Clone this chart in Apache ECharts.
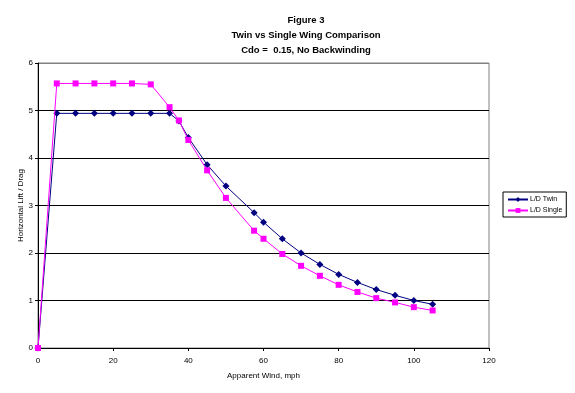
<!DOCTYPE html>
<html>
<head>
<meta charset="utf-8">
<script src="https://cdn.jsdelivr.net/npm/echarts@6/dist/echarts.min.js"></script>
<style>
html,body{margin:0;padding:0;background:#fff;}
#chart{width:575px;height:393px;}
</style>
</head>
<body>
<div id="chart"></div>
<script>
const windSpeeds = [0, 5, 10, 15, 20, 25, 30, 35, 37.5, 40, 45, 50, 57.5, 60, 65, 70, 75, 80, 85, 90, 95, 100, 105];
const twinLD = [0, 4.94, 4.94, 4.94, 4.94, 4.94, 4.94, 4.94, 4.78, 4.43, 3.86, 3.41, 2.85, 2.65, 2.30, 2.00, 1.76, 1.55, 1.38, 1.23, 1.11, 1.00, 0.92];
const singleLD = [0, 5.57, 5.57, 5.57, 5.57, 5.57, 5.55, 5.07, 4.79, 4.38, 3.74, 3.16, 2.47, 2.30, 1.98, 1.73, 1.52, 1.33, 1.18, 1.05, 0.96, 0.86, 0.79];
const seriesNames = ['L/D Twin', 'L/D Single'];
const titleLines = ['Figure 3', 'Twin vs Single Wing Comparison', 'Cdo =  0.15, No Backwinding'];
const xAxisTitle = 'Apparent Wind, mph';
const yAxisTitle = 'Horizontal Lift / Drag';

const pairs = (xs, ys) => xs.map((x, i) => [x, ys[i]]);
const FONT = 'Liberation Sans, Arial, sans-serif';

const chart = echarts.init(document.getElementById('chart'), null, {renderer: 'canvas'});
chart.setOption({
  backgroundColor: '#fff',
  animation: false,
  title: {
    text: titleLines.join('\n'),
    left: 301,
    top: 8,
    textAlign: 'center',
    textStyle: {fontFamily: FONT, fontSize: 9.5, fontWeight: 'bold', color: '#000', lineHeight: 15}
  },
  grid: {
    left: 38, right: 86, top: 63, bottom: 45,
    show: true, borderColor: '#808080', borderWidth: 1, backgroundColor: '#fff',
    containLabel: false
  },
  legend: {
    orient: 'vertical',
    left: 503, top: 192,
    padding: [4, 4, 3, 4],
    itemGap: 4,
    itemWidth: 20, itemHeight: 6,
    borderColor: '#000', borderWidth: 1,
    textStyle: {fontFamily: FONT, fontSize: 7, color: '#000', padding: [0, 0, 0, -3]},
    data: seriesNames
  },
  xAxis: {
    type: 'value', min: 0, max: 120, interval: 20,
    name: xAxisTitle, nameLocation: 'middle', nameGap: 24, nameMoveOverlap: false,
    nameTextStyle: {fontFamily: FONT, fontSize: 8, color: '#000'},
    axisLine: {show: true, onZero: false, lineStyle: {color: '#000', width: 1}},
    axisTick: {show: true, inside: false, length: 3, lineStyle: {color: '#000'}},
    axisLabel: {fontFamily: FONT, fontSize: 8, color: '#000', margin: 9},
    splitLine: {show: false}
  },
  yAxis: {
    type: 'value', min: 0, max: 6, interval: 1,
    name: yAxisTitle, nameLocation: 'middle', nameGap: 13, nameRotate: 90, nameMoveOverlap: false,
    nameTextStyle: {fontFamily: FONT, fontSize: 8, color: '#000'},
    axisLine: {show: true, onZero: false, lineStyle: {color: '#000', width: 1}},
    axisTick: {show: true, inside: false, length: 3, lineStyle: {color: '#000'}},
    axisLabel: {fontFamily: FONT, fontSize: 8, color: '#000', margin: 5},
    splitLine: {show: true, lineStyle: {color: ['#000', '#000', '#000', '#000', '#000', '#000', '#808080'], width: 1}}
  },
  series: [
    {
      name: seriesNames[0], type: 'line',
      data: pairs(windSpeeds, twinLD),
      symbol: 'diamond', symbolSize: 7,
      lineStyle: {color: '#000080', width: 1},
      itemStyle: {color: '#000080'},
      z: 3
    },
    {
      name: seriesNames[1], type: 'line',
      data: pairs(windSpeeds, singleLD),
      symbol: 'rect', symbolSize: 6,
      lineStyle: {color: '#FF00FF', width: 1},
      itemStyle: {color: '#FF00FF'},
      z: 4
    }
  ]
});
</script>
</body>
</html>
